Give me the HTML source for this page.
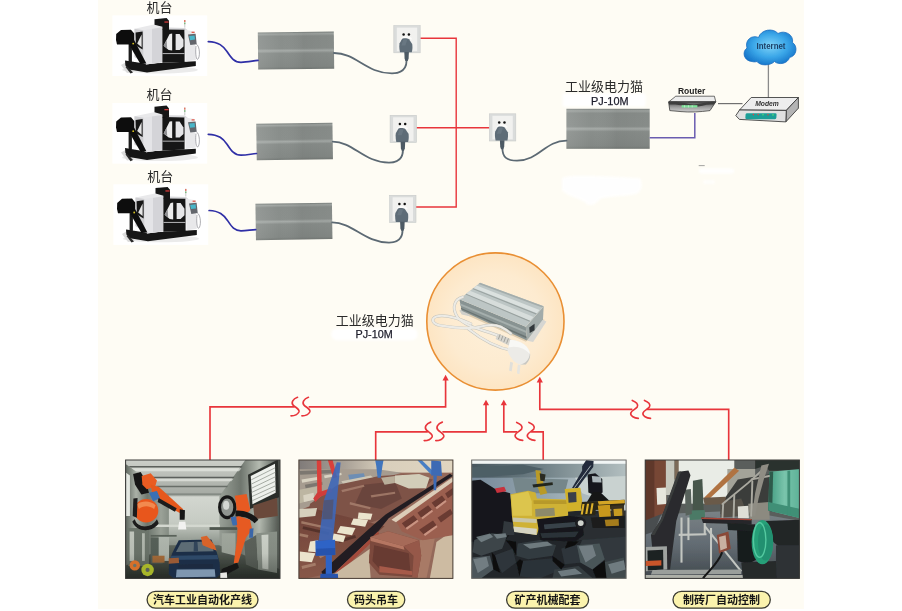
<!DOCTYPE html>
<html lang="zh"><head><meta charset="utf-8"><title>工业级电力猫 PJ-10M</title>
<style>
html,body{margin:0;padding:0;background:#fff;}
body{width:902px;height:611px;overflow:hidden;font-family:"Liberation Sans",sans-serif;}
svg{display:block}
text{font-family:"Liberation Sans","Noto Sans CJK SC",sans-serif;}
</style></head><body>
<svg width="902" height="611" viewBox="0 0 902 611">

<defs>
<filter id="b03" x="-5%" y="-5%" width="110%" height="110%"><feGaussianBlur stdDeviation="0.35"/></filter>
<filter id="b05" x="-5%" y="-5%" width="110%" height="110%"><feGaussianBlur stdDeviation="0.5"/></filter>
<filter id="b08" x="-5%" y="-5%" width="110%" height="110%"><feGaussianBlur stdDeviation="0.8"/></filter>
<filter id="b12" x="-10%" y="-10%" width="120%" height="120%"><feGaussianBlur stdDeviation="1.2"/></filter>
<filter id="b2" x="-10%" y="-10%" width="120%" height="120%"><feGaussianBlur stdDeviation="2"/></filter>
<filter id="b3" x="-20%" y="-20%" width="140%" height="140%"><feGaussianBlur stdDeviation="3"/></filter>
<linearGradient id="boxg" x1="0" y1="0" x2="0" y2="1">
<stop offset="0" stop-color="#7c827f"/><stop offset="0.05" stop-color="#a0a5a2"/><stop offset="0.11" stop-color="#898e8b"/>
<stop offset="0.44" stop-color="#8a8f8c"/><stop offset="0.5" stop-color="#a6aba8"/><stop offset="0.57" stop-color="#898e8b"/>
<stop offset="0.93" stop-color="#838885"/><stop offset="1" stop-color="#747976"/></linearGradient>
<linearGradient id="boxh" x1="0" y1="0" x2="1" y2="0">
<stop offset="0" stop-color="#fff" stop-opacity="0.10"/><stop offset="0.3" stop-color="#fff" stop-opacity="0"/><stop offset="0.6" stop-color="#000" stop-opacity="0.05"/><stop offset="1" stop-color="#000" stop-opacity="0.02"/></linearGradient>
<radialGradient id="cloudg" cx="0.5" cy="0.45" r="0.6">
<stop offset="0" stop-color="#7fd3f8"/><stop offset="0.55" stop-color="#3aa6e8"/><stop offset="1" stop-color="#1270c6"/></radialGradient>
<radialGradient id="circg" cx="0.5" cy="0.5" r="0.5">
<stop offset="0" stop-color="#fef0d9"/><stop offset="0.7" stop-color="#fdebd0"/><stop offset="1" stop-color="#fde5c3"/></radialGradient>
<linearGradient id="rtg" x1="0" y1="0" x2="0" y2="1"><stop offset="0" stop-color="#4a4a4a"/><stop offset="0.5" stop-color="#9a9a9a"/><stop offset="1" stop-color="#d0d0d0"/></linearGradient>

<!-- CNC machine, drawn at machine-1 coordinates -->
<g id="machine">
<rect x="112.4" y="15.4" width="94.8" height="60.6" fill="#fff" filter="url(#b05)"/>
<g filter="url(#b03)">
<!-- floor shadow -->
<ellipse cx="160" cy="69.8" rx="38" ry="3.6" fill="#ebebeb"/>
<path d="M121,65 L128,61 L130,66 L134,72 L127,73 Z" fill="#dcdcdc"/>
<!-- base -->
<path d="M125,60.5 L146,63.8 L195.8,61.2 L195.8,66 L147,72.4 L129,69.4 L125.4,65.5 Z" fill="#141414"/>
<path d="M127,66 L133,72.5 L130.5,73.6 L125.5,67 Z" fill="#2a2a2a"/>
<!-- conveyor vertical support -->
<rect x="128.6" y="43" width="3.3" height="19" fill="#1a1a1a"/>
<!-- main white body -->
<path d="M134.5,28.7 L153.9,24.6 L162.4,27 L162.4,62.3 L146.2,64.6 L134.5,57 Z" fill="#e9e9eb"/>
<path d="M134.5,28.7 L143.6,30.2 L143.6,62 L134.5,57 Z" fill="#cfcfd2"/>
<path d="M143.6,30.2 L162.4,27 L162.4,62.3 L146.2,64.6 L143.6,62 Z" fill="#e4e4e7"/>
<path d="M152,29 L162.4,27.3 L162.4,62 L152,63.6 Z" fill="#d4d4d8"/>
<!-- left window -->
<path d="M135.6,32.4 L142.6,31.4 L142.6,49.5 L135.9,45.6 Z" fill="#161616"/>
<path d="M137.2,43.5 L141.6,34.5 L141.6,47.2 Z" fill="#e6e6e6"/>
<!-- conveyor head + leg -->
<path d="M116.2,34 L121,29.9 L131,29.7 L134.2,33.5 L134.2,40 L146.4,63.6 L140.4,63.9 L129,44.4 L117,44.4 L116,40 Z" fill="#111"/>
<circle cx="133.2" cy="43.6" r="0.9" fill="#d8c020"/>
<!-- top black column -->
<path d="M154.5,19.2 L166.6,18 L169,20.8 L169,30 L162.4,30 L162.4,26.8 L154.5,24.7 Z" fill="#151515"/>
<rect x="164.4" y="21.4" width="4.2" height="1.3" fill="#d23a3a"/>
<!-- upper grey strip -->
<path d="M169,27.6 L185,28 L188,30.6 L169,30.6 Z" fill="#d9d9dc"/>
<!-- center dark door area -->
<path d="M162.4,29.5 L184.6,29.8 L184.6,62 L162.4,62.8 Z" fill="#121212"/>
<path d="M163.6,45.8 L169.6,34 L172.2,33.6 L172.2,50.6 L168.6,50 Z" fill="#ececec"/>
<path d="M163.6,45.8 L166.6,40 L167.2,48.5 Z" fill="#8f8f92"/>
<path d="M175.6,34 L179.6,34 L183.5,39.8 L183.5,46.4 L179.6,50 L175.6,50 Z" fill="#e6e6e8"/>
<rect x="162.4" y="53" width="22.2" height="1.1" fill="#a9a9ab"/>
<!-- right panel -->
<path d="M184.6,29.8 L194.6,31.4 L195.8,59.9 L185.6,61.4 Z" fill="#e8e8ea"/>
<!-- pendant -->
<path d="M188,34.6 L195.6,33.8 L196.7,44.2 L190.3,45 Z" fill="#63666c"/>
<path d="M189.2,36 L194.6,35.4 L195,39.6 L190,40.2 Z" fill="#49b6c9"/>
<rect x="191.6" y="31.7" width="3" height="1.2" fill="#e05040"/>
<path d="M196.2,44 C200.2,46 200.2,58 197.6,59.4 C195.6,59.4 195.4,50 196,46" fill="none" stroke="#8a8a90" stroke-width="0.7"/>
<!-- signal pole -->
<rect x="184.3" y="20" width="1" height="7.6" fill="#c9c9c9"/>
<rect x="184.2" y="20" width="1.2" height="2" fill="#e0604a"/>
<rect x="184.2" y="22.6" width="1.2" height="1.6" fill="#6ab06a"/>
</g>
</g>

<!-- socket with plug, origin top-left -->
<g id="socket">
<rect x="0" y="0" width="26.4" height="27.2" fill="#dadcdb"/>
<rect x="0" y="0" width="26.4" height="27.2" fill="none" stroke="#c9cbca" stroke-width="0.6"/>
<rect x="3" y="2" width="20.4" height="23.6" fill="#f1f1ef"/>
<path d="M7.4,12.6 C9.6,9.6 15.6,9.6 17.8,12.6 L17.8,14 L7.4,14 Z" fill="#fbfbfa"/>
<circle cx="9.8" cy="8.8" r="1.25" fill="#111"/>
<circle cx="15.1" cy="8.8" r="1.25" fill="#111"/>
<path d="M8.4,13.2 C10.5,12.4 13.6,12.6 15.2,13.6 L18.4,18.4 C18.9,21 18.6,24.4 18,26.6 L6.2,26.6 C5.4,23 5.3,20 5.8,17.6 Z" fill="#5e6c77"/>
<path d="M9.4,14.4 C10.6,13.8 12.4,13.9 13.4,14.4 L11.6,20 L7.6,20 Z" fill="#6c7a85" opacity="0.8"/>
<path d="M10.5,26.4 L15.1,26.4 L14.8,33 L13.9,35.4 L11.6,35.4 L10.8,33 Z" fill="#4d5a64"/>
</g>
</defs>

<rect x="0" y="0" width="902" height="611" fill="#fff"/>
<rect x="98" y="0" width="705.9" height="609" fill="#fefcf4"/>
<g filter="url(#b08)" fill="#fff">
<rect x="562.6" y="93.6" width="83" height="13.2" rx="2"/>
<rect x="331.3" y="328.2" width="86.2" height="12" rx="5.5"/>
</g>
<g filter="url(#b12)" fill="#fff" opacity="0.95">
<path d="M562,178 C570,174 600,176 640,178 C643,184 642,192 636,194 C620,197 606,196 600,199 C596,205 588,207 586,203 C580,198 566,196 562,190 Z"/>
<rect x="699" y="168.4" width="35" height="5" rx="2"/>
<rect x="703" y="180" width="12" height="4" rx="2" opacity="0.7"/>
</g>
<rect x="698.7" y="165.2" width="6" height="0.9" fill="#9a9a98"/>

<g transform="translate(0,0)">
<use href="#machine"/>
</g>
<g transform="translate(0,87.6)">
<use href="#machine"/>
</g>
<g transform="translate(1.0,168.9)">
<use href="#machine"/>
</g>
<!-- grey boxes -->
<g filter="url(#b03)">
<g transform="rotate(-0.6 296 50.6)"><rect x="258" y="32" width="76" height="37.2" fill="url(#boxg)"/><rect x="258" y="32" width="76" height="37.2" fill="url(#boxh)"/></g>
<g transform="rotate(-0.85 294.6 141.5)"><rect x="256.5" y="123.3" width="76.2" height="36.4" fill="url(#boxg)"/><rect x="256.5" y="123.3" width="76.2" height="36.4" fill="url(#boxh)"/></g>
<g transform="rotate(-0.85 294 221.4)"><rect x="255.7" y="203.3" width="76.5" height="36.3" fill="url(#boxg)"/><rect x="255.7" y="203.3" width="76.5" height="36.3" fill="url(#boxh)"/></g>
<rect x="566.4" y="108.8" width="83.3" height="40" fill="url(#boxg)"/><rect x="566.4" y="108.8" width="83.3" height="40" fill="url(#boxh)"/>
</g>
<!-- blue cables -->
<g fill="none" stroke="#2f2fa6" stroke-width="1.7" stroke-linecap="round">
<path d="M208.3,41.6 C219,42 223,46 227,51.5 C231,57.5 234,62.3 241,62.3 C247,62.3 252,61 258,60.3"/>
<path d="M208.3,134.3 C219,134.7 223,138.7 227,144.2 C231,150.2 234,155.2 241,155.2 C247,155.2 251,154 256.5,153.5"/>
<path d="M209.1,210.5 C219.5,210.9 223.5,214.9 227.5,220.4 C231.5,226.4 234,230.8 241,230.8 C246,230.8 250,230 255.7,229.6"/>
</g>
<!-- grey power cables -->
<g fill="none" stroke="#5c6973" stroke-width="1.8" stroke-linecap="round">
<path d="M334,53 C356,53 366,73.4 392,73.4 C402,73.4 406.6,68.5 406.6,60"/>
<path d="M332.7,141.6 C353,141.6 364,162.6 389,162.6 C399,162.6 403,157.5 403,149.5"/>
<path d="M332.2,222.4 C353,222.4 364,242.6 389,242.6 C399,242.6 402.6,237.5 402.6,229.5"/>
<path d="M502.4,148 C502.4,157.5 507,160.6 517,160.6 C539,160.6 545,140.6 566.5,140.6"/>
</g>
<!-- red power lines -->
<g fill="none" stroke="#e8353b" stroke-width="1.4">
<path d="M420.2,38.3 H456.2 V207 H416"/>
<path d="M416.5,127.7 H489.5"/>
</g>
<use href="#socket" x="393.8" y="25.6"/>
<use href="#socket" x="390.1" y="115.3"/>
<use href="#socket" x="389.6" y="195.3"/>
<use href="#socket" x="489.4" y="113.8"/>

<text x="146.6" y="12.4" font-size="13" fill="#2a2a2a">机台</text>
<text x="146.6" y="99.1" font-size="13" fill="#2a2a2a">机台</text>
<text x="147.3" y="180.7" font-size="13" fill="#2a2a2a">机台</text>
<text x="603.9" y="91.3" font-size="13" text-anchor="middle" fill="#2a2a2a">工业级电力猫</text>
<text x="609.8" y="104.9" font-size="10.9" text-anchor="middle" fill="#1d1d2b" stroke="#1d1d2b" stroke-width="0.25">PJ-10M</text>
<text x="374.8" y="325.2" font-size="13" text-anchor="middle" fill="#2a2a2a">工业级电力猫</text>
<text x="374.1" y="338.2" font-size="10.8" text-anchor="middle" fill="#1d1d2b" stroke="#1d1d2b" stroke-width="0.25">PJ-10M</text>
<!-- white patch behind PJ-10M is drawn in smudges -->
<!-- purple ethernet line -->
<path d="M649.7,137.7 H694.8 V113" fill="none" stroke="#6a5cb0" stroke-width="1.5"/>
<!-- router-modem, cloud-modem lines -->
<path d="M718,103.6 H742.5" stroke="#707070" stroke-width="1.2" fill="none"/>
<path d="M768.4,62 V98" stroke="#8a8a8a" stroke-width="1.3" fill="none"/>
<!-- cloud -->
<g filter="url(#b03)">
<path d="M752,61.5 C744,61 741.5,52 747,48 C744.5,40 752,34.5 758.5,37.5 C761,29.5 773,27.5 778,33.5 C785,29.5 794,35 792.5,42.5 C798,46 797,56 789.5,57.5 C788,63.5 779,65.5 774.5,61.5 C770,66 760,66 757,61.5 C755.5,62 753.5,62 752,61.5 Z" fill="url(#cloudg)" stroke="#1d6fc0" stroke-width="0.8"/>
</g>
<text x="771" y="48.7" font-size="8.6" font-weight="bold" text-anchor="middle" fill="#1c3f66" textLength="29" lengthAdjust="spacingAndGlyphs">Internet</text>
<!-- router -->
<g filter="url(#b03)">
<path d="M668.8,101.8 L675.8,96.2 L714.4,96.2 L715.8,101.8 Z" fill="#ececec" stroke="#333" stroke-width="0.7"/>
<path d="M668.6,101.8 L715.8,101.8 L710,110.6 C700,112 690,112.4 681,111.6 L669.8,110.6 Z" fill="url(#rtg)" stroke="#2a2a2a" stroke-width="0.7"/>
<path d="M668.8,102 C680,100.8 688,104.6 694,104.4 C702,104.2 708,101 715.6,102 L714,104.6 C706,103.8 701,106.8 694,107 C687,107.2 680,103.8 669,104.6 Z" fill="#3c3c3c"/>
<rect x="681.6" y="105.2" width="15.8" height="2.3" fill="#7fe39a"/>
<path d="M684.6,105.2 v2.3 M688.4,105.2 v2.3 M692.2,105.2 v2.3" stroke="#cfeedd" stroke-width="0.7"/>
</g>
<text x="691.6" y="94.2" font-size="9.3" font-weight="bold" text-anchor="middle" fill="#222" textLength="27.4" lengthAdjust="spacingAndGlyphs">Router</text>
<!-- modem -->
<g filter="url(#b03)">
<path d="M751.2,97.5 L798.4,97.5 L786.3,110.4 L739.5,110 Z" fill="#ededed" stroke="#2c2c2c" stroke-width="0.8"/>
<path d="M786.3,110.4 L798.4,97.5 L798.4,108.2 L785.8,121.9 Z" fill="#b4b4b4" stroke="#2c2c2c" stroke-width="0.8"/>
<path d="M739.5,110 L786.3,110.4 L785.8,121.9 L739.4,119.4 L735.8,115.6 Z" fill="#e0e0e0" stroke="#2c2c2c" stroke-width="0.8"/>
<rect x="745.6" y="113.2" width="31" height="6" rx="1.4" fill="#1b9e97" transform="skewX(-4) translate(8,0)"/>
<g fill="#e84040"><circle cx="753.4" cy="114.6" r="0.8"/><circle cx="758.2" cy="114.6" r="0.8"/><circle cx="768" cy="114.8" r="0.8"/></g>
<g fill="#50e070"><circle cx="763" cy="114.7" r="0.8"/><circle cx="773" cy="114.9" r="0.8"/></g>
</g>
<text x="767" y="106.2" font-size="7.8" font-style="italic" font-weight="bold" text-anchor="middle" fill="#333" textLength="23.6" lengthAdjust="spacingAndGlyphs">Modem</text>

<circle cx="495.4" cy="321.5" r="68.6" fill="url(#circg)" stroke="#e98f33" stroke-width="1.6"/>
<g transform="translate(425,250) scale(0.22915)" filter="url(#b12)">
<!-- drop shadow -->
<path d="M150,270 L440,400 L520,320 L520,300 L440,390 L160,262 Z" fill="#d9c7a8" opacity="0.8"/>
<!-- mounting flanges -->
<path d="M505,300 L530,312 L472,402 L446,396 Z" fill="#d6d6d2"/>
<path d="M150,262 L168,258 L200,290 L160,282 Z" fill="#cfcfca"/>
<!-- left long side -->
<path d="M150,215 L440,335 L445,395 L160,265 Z" fill="#889392"/>
<path d="M152,232 L441,352 L442,362 L154,242 Z" fill="#a5afad"/>
<path d="M156,252 L443,378 L444,386 L158,259 Z" fill="#6a7473"/>
<!-- end face -->
<path d="M440,335 L518,245 L515,302 L445,395 Z" fill="#a2aba9"/>
<path d="M455,338 L478,322 L478,350 L457,362 Z" fill="#33383a"/>
<!-- top face -->
<path d="M240,143 L518,245 L440,335 L150,215 Z" fill="#bdc6c5"/>
<path d="M225,155 L500,262 L488,276 L212,166 Z" fill="#dbe1df"/>
<path d="M196,178 L474,292 L458,310 L178,192 Z" fill="#d7dddb"/>
<path d="M210,167 L487,277 L484,281 L207,170 Z" fill="#99a2a0"/>
<path d="M180,191 L459,309 L456,313 L177,194 Z" fill="#99a2a0"/>
<path d="M240,143 L518,245 L512,251 L234,148 Z" fill="#a4adab"/>
<!-- cable -->
<g fill="none" stroke-linecap="round" stroke-linejoin="round">
<g stroke="#c3c2ba" stroke-width="13">
<path d="M165,205 C125,215 118,255 140,290 C158,318 200,335 250,350 C300,365 340,380 370,395"/>
<path d="M200,322 C150,300 90,280 50,290 C20,300 35,325 70,330 C130,340 200,345 240,335 C270,326 300,322 330,335 C350,345 365,355 375,365"/>
<path d="M190,345 C240,385 300,425 385,440"/>
</g>
<g stroke="#ecebe6" stroke-width="9">
<path d="M165,205 C125,215 118,255 140,290 C158,318 200,335 250,350 C300,365 340,380 370,395"/>
<path d="M200,322 C150,300 90,280 50,290 C20,300 35,325 70,330 C130,340 200,345 240,335 C270,326 300,322 330,335 C350,345 365,355 375,365"/>
<path d="M190,345 C240,385 300,425 385,440"/>
</g>
</g>
<!-- strain relief -->
<path d="M318,365 L378,392 L368,418 L308,388 Z" fill="#d6d5cf"/>
<path d="M328,368 l-8,22 M340,374 l-8,22 M352,380 l-8,22 M364,386 l-8,22" stroke="#9d9c96" stroke-width="4"/>
<!-- plug body -->
<path d="M372,392 C420,395 455,420 458,455 C460,485 440,505 415,500 C390,495 372,470 360,440 Z" fill="#ecebe7"/>
<path d="M372,392 C420,395 455,420 458,455 C440,430 400,415 364,425 Z" fill="#f8f8f5"/>
<path d="M440,500 C455,485 462,465 458,450 C455,480 440,495 415,500 Z" fill="#c8c7c1"/>
<!-- prongs -->
<path d="M372,488 L384,492 L378,530 L367,526 Z" fill="#e0dfda"/>
<path d="M405,500 L417,503 L412,542 L401,538 Z" fill="#e6e5e0"/>
</g>

<g fill="none" stroke="#e8353b" stroke-width="1.65" stroke-linecap="round" stroke-linejoin="miter">
<path d="M445.6,379 V406.8 H309.3 M294.2,406.8 H210 V459.8"/>
<path d="M297.5,397.3 C293.0,398.8 290.7,402.8 293.3,405.3 C296.0,407.8 300.1,409.3 298.9,412.0 C297.5,414.8 294.0,415.8 291.0,415.8"/><path d="M308.4,397.3 C303.9,398.8 301.6,402.8 304.2,405.3 C306.9,407.8 311.0,409.3 309.8,412.0 C308.4,414.8 304.9,415.8 301.9,415.8"/>
<path d="M486,404 V431.8 H443 M427.4,431.8 H375.7 V459.8"/>
<path d="M430.7,422.1 C426.2,423.6 423.9,427.6 426.5,430.1 C429.2,432.6 433.3,434.1 432.1,436.8 C430.7,439.6 427.2,440.6 424.2,440.6"/><path d="M442.3,422.1 C437.8,423.6 435.5,427.6 438.1,430.1 C440.8,432.6 444.9,434.1 443.7,436.8 C442.3,439.6 438.8,440.6 435.8,440.6"/>
<path d="M503.8,404 V431.8 H516.6 M531.4,431.8 H543.2 V459.8"/>
<path d="M516.7,422.4 C520.5,423.9 523.2,426.4 521.6,429.0 C520.0,431.4 516.0,432.4 515.2,435.0 C514.4,438.0 519.0,440.0 522.7,440.4"/><path d="M528.9,422.4 C532.7,423.9 535.4,426.4 533.8,429.0 C532.2,431.4 528.2,432.4 527.4,435.0 C526.6,438.0 531.2,440.0 534.9,440.4"/>
<path d="M539.8,381 V409.3 H631.8 M647.2,409.3 H728.7 V459.8"/>
<path d="M632.3,400.4 C636.1,401.9 638.8,404.4 637.2,407.0 C635.6,409.4 631.6,410.4 630.8,413.0 C630.0,416.0 634.6,418.0 638.3,418.4"/><path d="M644.5,400.4 C648.3,401.9 651.0,404.4 649.4,407.0 C647.8,409.4 643.8,410.4 643.0,413.0 C642.2,416.0 646.8,418.0 650.5,418.4"/>
<path d="M445.6,374.8 L448.70000000000005,380.40000000000003 L442.5,380.40000000000003 Z" fill="#e8353b" stroke="none"/>
<path d="M486,399.7 L489.1,405.3 L482.9,405.3 Z" fill="#e8353b" stroke="none"/>
<path d="M503.8,399.7 L506.90000000000003,405.3 L500.7,405.3 Z" fill="#e8353b" stroke="none"/>
<path d="M539.8,376.8 L542.9,382.40000000000003 L536.6999999999999,382.40000000000003 Z" fill="#e8353b" stroke="none"/>
</g>
<svg x="125.6" y="460" width="154.4" height="118.4" viewBox="5 7 892 684" preserveAspectRatio="none" overflow="hidden">
<defs>
<linearGradient id="p1ceil" x1="0" y1="0" x2="0" y2="1"><stop offset="0" stop-color="#cdd0ca"/><stop offset="1" stop-color="#a3a8a1"/></linearGradient>
<linearGradient id="p1lw" x1="0" y1="0" x2="1" y2="0"><stop offset="0" stop-color="#5a625a"/><stop offset="0.25" stop-color="#aab1a7"/><stop offset="0.5" stop-color="#6e776e"/><stop offset="0.8" stop-color="#9ba298"/><stop offset="1" stop-color="#848c83"/></linearGradient>
<linearGradient id="p1rw" x1="0" y1="0" x2="1" y2="0"><stop offset="0" stop-color="#9aa198"/><stop offset="0.35" stop-color="#6f766e"/><stop offset="0.65" stop-color="#b4bab0"/><stop offset="0.85" stop-color="#757c74"/><stop offset="1" stop-color="#4a4f49"/></linearGradient>
<linearGradient id="p1back" x1="0" y1="0" x2="0" y2="1"><stop offset="0" stop-color="#d3d7d0"/><stop offset="0.55" stop-color="#c6cbc3"/><stop offset="1" stop-color="#8f978e"/></linearGradient>
<linearGradient id="p1floor" x1="0" y1="0" x2="0" y2="1"><stop offset="0" stop-color="#626a61"/><stop offset="1" stop-color="#2a2f2a"/></linearGradient>
<linearGradient id="p1dk" x1="0" y1="0" x2="0" y2="1"><stop offset="0" stop-color="#1c211c" stop-opacity="0"/><stop offset="0.55" stop-color="#1c211c" stop-opacity="0.08"/><stop offset="1" stop-color="#1c211c" stop-opacity="0.42"/></linearGradient>
</defs>
<rect x="0" y="0" width="902" height="700" fill="#90978e"/>
<g filter="url(#b3)">
<!-- walls -->
<path d="M0,0 L0,26 L261,216 L258,500 L0,700 Z" fill="url(#p1lw)"/>
<path d="M700,0 L902,0 L902,700 L545,500 L545,215 Z" fill="url(#p1rw)"/>
<path d="M8,80 L30,96 L30,330 L8,330 Z" fill="#e3e7e1"/>
<!-- back wall -->
<rect x="255" y="212" width="292" height="290" fill="url(#p1back)"/>
<!-- ceiling -->
<path d="M-36,0 L702,0 L547,216 L261,216 Z" fill="url(#p1ceil)"/>
<g fill="#5b615b">
<path d="M22,42 L680,42 L675,51 L34,51 Z"/>
<path d="M108,104 L634,104 L629,113 L120,113 Z"/>
<path d="M180,156 L596,156 L592,164 L190,164 Z" fill="#686e68"/>
<path d="M238,200 L560,200 L556,208 L244,208 Z" fill="#7a807a"/>
</g>
<g fill="#e6e9e3" opacity="0.7">
<path d="M40,54 L674,54 L660,72 L64,72 Z"/>
<path d="M126,116 L628,116 L616,130 L144,130 Z"/>
</g>
<!-- floor -->
<path d="M0,700 L0,620 L258,500 L545,500 L902,640 L902,700 Z" fill="url(#p1floor)"/>
<!-- left machinery -->
<rect x="20" y="400" width="120" height="220" fill="#6e776d"/>
<rect x="150" y="455" width="70" height="150" fill="#59625a"/><rect x="196" y="450" width="60" height="140" fill="#b4bbb2"/>
<rect x="28" y="420" width="26" height="170" fill="#c3c9bf"/>
<rect x="100" y="430" width="16" height="160" fill="#b7bdb3"/>
<rect x="160" y="560" width="70" height="40" fill="#b0703a"/>
<!-- mid shelf lines -->
<rect x="150" y="380" width="400" height="14" fill="#d6dad2"/>
<rect x="150" y="440" width="150" height="10" fill="#5d655d"/>
<rect x="490" y="395" width="160" height="16" fill="#50574f"/>
<!-- right cabinets -->
<path d="M760,430 L880,420 L880,660 L770,640 Z" fill="#8c938a"/>
<path d="M790,440 L830,437 L830,640 L795,634 Z" fill="#d0d5cc"/>
<path d="M690,480 L760,440 L770,640 L700,610 Z" fill="#5d645c"/>
<path d="M560,430 L640,430 L640,560 L560,540 Z" fill="#a3aaa0"/>
<!-- window blind -->
<path d="M712,92 L886,4 L892,222 L724,290 Z" fill="#2b2e2b"/>
<path d="M728,100 L868,28 L872,196 L738,262 Z" fill="#eef1ec"/>
<g stroke="#9aa098" stroke-width="5"><path d="M730,122 L869,52"/><path d="M732,146 L870,78"/><path d="M733,170 L870,104"/><path d="M734,194 L871,130"/><path d="M735,218 L871,156"/><path d="M737,242 L872,180"/></g>
<path d="M742,270 L880,225 L884,330 L750,350 Z" fill="#6a4a3a"/>
</g>
<rect x="0" y="360" width="902" height="340" fill="url(#p1dk)"/>
<g filter="url(#b2)">
<!-- car -->
<path d="M312,470 L500,466 L532,542 L548,600 L552,668 L528,688 L280,688 L254,668 L256,600 L274,545 Z" fill="#1d2f47"/>
<path d="M326,482 L490,478 L514,534 L296,538 Z" fill="#5d6c74"/>
<path d="M400,480 L420,480 L424,536 L398,536 Z" fill="#31455a"/>
<path d="M300,640 L520,638 L524,682 L296,684 Z" fill="#7f97b0"/>
<path d="M268,560 L536,556 L540,580 L264,584 Z" fill="#2d4868"/>
<path d="M254,574 L312,572 L314,602 L254,606 Z" fill="#9a5a34"/>
<path d="M310,610 L510,608 L512,630 L308,632 Z" fill="#1c2c40"/>
<!-- background robot behind car -->
<path d="M440,452 L474,444 L520,500 L530,530 L500,520 L450,500 Z" fill="#d8642c"/>
<!-- left robot -->
<path d="M48,88 L92,76 L118,120 L140,196 L96,206 L60,150 Z" fill="#161616"/>
<path d="M98,100 L150,84 L186,126 L176,160 L128,176 L102,150 Z" fill="#e95c20"/>
<path d="M150,150 L196,162 L338,292 L326,318 L236,268 L160,214 Z" fill="#e6591e"/>
<path d="M140,196 L186,186 L204,228 L164,246 Z" fill="#3a6fb4"/>
<path d="M196,226 L300,286 L290,306 L190,250 Z" fill="#1b1b1b"/>
<path d="M318,292 L348,298 L346,352 L318,352 Z" fill="#151515"/>
<path d="M314,364 L350,364 L356,408 L308,408 Z" fill="#f2f2f0"/>
<ellipse cx="124" cy="300" rx="70" ry="68" fill="#e8571c"/>
<path d="M70,262 C100,240 150,240 178,268 L170,290 C140,268 104,270 82,290 Z" fill="#f28a50"/>
<path d="M58,350 C70,400 150,410 186,350 L196,372 C160,430 64,424 44,362 Z" fill="#1a1a1a"/>
<path d="M50,230 L74,226 L70,340 L46,330 Z" fill="#1c1c1c"/>
<!-- right robot -->
<ellipse cx="592" cy="280" rx="44" ry="60" fill="#8f948f" stroke="#171717" stroke-width="18"/><ellipse cx="586" cy="268" rx="18" ry="26" fill="#d4d7d3"/>
<path d="M636,214 L704,204 L726,296 L700,320 L650,310 Z" fill="#e85a20"/>
<path d="M640,300 C680,296 740,310 772,352 L750,372 C720,340 680,330 640,334 Z" fill="#161616"/>
<path d="M606,342 L660,332 L724,352 L736,408 L700,456 L656,600 L630,604 L648,470 L652,400 Z" fill="#e65a22"/>
<path d="M610,336 L644,334 L650,384 L624,386 Z" fill="#3d6cae"/>
<path d="M722,404 L744,402 L740,456 L718,456 Z" fill="#3a66a8"/>
<path d="M560,636 L650,600 L660,630 L585,672 L556,668 Z" fill="#161616"/>
<path d="M552,660 L590,655 L592,690 L552,690 Z" fill="#e8e8e4"/>
<!-- gears -->
<circle cx="58" cy="616" r="30" fill="#d6702a"/>
<circle cx="58" cy="616" r="10" fill="#6b736a"/>
<circle cx="132" cy="642" r="36" fill="#a7b62a"/>
<circle cx="132" cy="642" r="12" fill="#5a6258"/>
</g>
</svg>
<rect x="125.6" y="460" width="154.4" height="118.4" fill="none" stroke="#3a3a38" stroke-width="1"/>

<svg x="298.9" y="460" width="154" height="118.4" viewBox="5 7 890 684" preserveAspectRatio="none" overflow="hidden">
<defs>
<linearGradient id="p2sky" x1="0" y1="0" x2="1" y2="0"><stop offset="0" stop-color="#7f7a78"/><stop offset="0.3" stop-color="#a9a197"/><stop offset="0.55" stop-color="#d9cfbc"/><stop offset="1" stop-color="#e0d5c0"/></linearGradient>
<linearGradient id="p2deck" x1="0" y1="0" x2="0" y2="1"><stop offset="0" stop-color="#6f4238"/><stop offset="1" stop-color="#885848"/></linearGradient>
</defs>
<rect x="0" y="0" width="902" height="700" fill="#94695a"/>
<g filter="url(#b3)">
<!-- sky / haze -->
<rect x="0" y="0" width="902" height="80" fill="url(#p2sky)"/>
<!-- far yard -->
<path d="M0,60 L460,60 L600,80 L420,130 L250,200 L0,300 Z" fill="#a69c90"/>
<path d="M0,180 L110,160 L110,230 L0,260 Z" fill="#bdb6a2"/>
<path d="M290,92 L380,84 L392,120 L300,134 Z" fill="#6e8eb4"/>
<path d="M250,130 L420,96 L440,112 L270,160 Z" fill="#cdc6b4"/>
<g fill="#d9d3c2"><path d="M20,120 L120,104 L124,120 L24,138 Z"/><path d="M150,96 L250,80 L252,94 L154,112 Z"/><path d="M300,150 L420,118 L424,130 L306,164 Z"/><path d="M30,210 L90,196 L94,236 L34,250 Z"/></g>
<g fill="#7c776f"><path d="M10,70 L200,64 L204,84 L12,92 Z"/><path d="M40,150 L140,132 L142,150 L44,170 Z"/></g>
<!-- main ship deck -->
<path d="M230,150 L470,100 L640,90 L780,120 L620,290 L420,370 L60,300 L70,260 Z" fill="#7e5247"/>
<path d="M380,150 L560,130 L600,230 L480,290 L330,260 Z" fill="#6b453d"/>
<g fill="#a9826f" opacity="0.8"><path d="M250,180 L380,150 L384,162 L256,194 Z"/><path d="M420,210 L560,190 L562,202 L424,224 Z"/><path d="M300,250 L420,280 L416,292 L298,264 Z"/></g>
<!-- far hatch covers -->
<path d="M560,96 L700,88 L760,110 L740,170 L640,172 L560,140 Z" fill="#d2cdb9"/>
<path d="M480,110 L560,100 L560,140 L500,150 Z" fill="#b9ae9a"/>
<!-- left lower deck -->
<path d="M0,300 L60,280 L420,370 L500,390 L200,660 L0,700 Z" fill="url(#p2deck)"/>
<path d="M0,290 L110,285 L100,330 L0,340 Z" fill="#d6cfbc"/>
<g fill="#b08a74" opacity="0.75"><path d="M20,360 L200,400 L196,412 L18,374 Z"/><path d="M10,430 L60,440 L56,456 L8,446 Z"/><path d="M120,560 L200,520 L206,534 L128,574 Z"/><path d="M20,620 L100,600 L104,616 L24,636 Z"/></g>
<g fill="#4e2e28" opacity="0.8"><path d="M30,390 L180,424 L176,440 L26,406 Z"/><path d="M230,470 L330,440 L336,456 L238,486 Z"/></g>
<!-- dark hull band -->
<path d="M878,86 L896,98 L524,344 L462,420 L215,655 L150,684 L135,652 L440,378 L506,322 Z" fill="#231f22"/>
<path d="M462,420 L472,438 L228,672 L215,655 Z" fill="#a2493a"/>
<!-- cream hatch covers along left deck -->
<g fill="#ebe4cd">
<path d="M350,310 L430,318 L420,352 L345,346 Z"/>
<path d="M320,345 L405,352 L388,392 L305,380 Z"/>
<path d="M245,388 L332,400 L312,442 L225,428 Z"/>
<path d="M205,432 L275,444 L262,482 L196,470 Z"/>
<path d="M70,478 L116,470 L112,540 L58,535 Z"/>
<path d="M10,535 L100,545 L80,598 L10,590 Z"/>
</g>
<!-- ground -->
<path d="M430,510 L410,560 L420,690 L230,690 L210,665 Z" fill="#c9b9a1"/>
<path d="M800,480 L902,410 L902,700 L760,700 Z" fill="#cdbba2"/><path d="M700,470 L790,460 L740,700 L690,700 Z" fill="#a87a66"/>
<!-- right hull blocks -->
<path d="M560,350 L900,112 L902,440 L720,470 L600,420 Z" fill="#9b5f50"/>
<path d="M540,352 L892,108 L900,128 L566,366 Z" fill="#dccdb8"/>
<g fill="#6b3a32">
<path d="M600,372 L668,326 L690,352 L622,400 Z"/>
<path d="M690,312 L752,268 L774,294 L712,340 Z"/>
<path d="M772,254 L832,212 L852,238 L794,282 Z"/>
<path d="M850,200 L896,168 L900,204 L866,228 Z"/>
<path d="M700,410 L780,356 L800,384 L726,436 Z"/>
<path d="M806,340 L880,290 L896,316 L826,368 Z"/>
</g>
<g fill="#c99482">
<path d="M622,400 L690,352 L696,362 L630,410 Z"/>
<path d="M712,340 L774,294 L780,304 L720,350 Z"/>
<path d="M794,282 L852,238 L858,248 L802,292 Z"/>
<path d="M726,436 L800,384 L806,394 L734,446 Z"/>
</g>
<!-- big hull box -->
<path d="M418,452 L520,418 L700,470 L712,560 L690,686 L470,670 L410,600 Z" fill="#7c4a3c"/>
<path d="M418,452 L520,418 L700,470 L610,505 Z" fill="#a66a58"/>
<path d="M610,505 L700,470 L712,560 L690,686 L660,684 L668,560 Z" fill="#96594a"/>
<path d="M418,452 L610,505 L615,525 L420,475 Z" fill="#b57662"/>
<path d="M440,500 L640,545 L650,660 L480,645 L430,590 Z" fill="#683a33"/>
<path d="M470,620 L660,650 L660,672 L470,656 Z" fill="#a65a4a"/>
</g>
<g filter="url(#b2)">
<!-- red crane -->
<path d="M108,0 L134,0 L138,212 L112,214 Z" fill="#d9413a"/>
<path d="M170,0 L198,0 L226,106 L204,112 Z" fill="#d9413a"/>
<path d="M88,230 L110,196 L190,170 L200,190 L130,220 L100,250 Z" fill="#cf3e3a"/>
<!-- blue crane left -->
<path d="M224,20 L246,22 L214,350 L200,470 L120,470 L150,240 Z" fill="#3d67b8" opacity="0.9"/>
<path d="M150,240 L205,235 L198,350 L140,350 Z" fill="#5a4a50" opacity="0.55"/>
<path d="M100,472 L214,468 L216,556 L102,560 Z" fill="#2f63c6"/>
<path d="M104,520 L214,516 L214,556 L104,560 Z" fill="#2753ad"/>
<path d="M160,556 L196,556 L196,672 L160,672 Z" fill="#2f63c6"/>
<path d="M130,664 L230,664 L232,690 L128,690 Z" fill="#2753ad"/>
<!-- blue crane top center -->
<path d="M446,8 L494,8 L488,40 L478,110 L460,110 L452,40 Z" fill="#3f74bd"/>
<!-- blue crane top right -->
<path d="M690,8 L716,8 L790,80 L770,92 Z" fill="#4a7fc4"/>
<path d="M770,10 L826,14 L832,100 L770,96 Z" fill="#3c6ab4"/>
<path d="M782,96 L802,96 L798,182 L784,182 Z" fill="#3c6ab4"/>
</g>
</svg>
<rect x="298.9" y="460" width="154" height="118.4" fill="none" stroke="#4a4038" stroke-width="1"/>

<svg x="471.7" y="460" width="154.4" height="118.4" viewBox="5 8 888 683" preserveAspectRatio="none" overflow="hidden">
<defs>
<linearGradient id="p3hill" x1="0" y1="0" x2="1" y2="0"><stop offset="0" stop-color="#46565e"/><stop offset="0.45" stop-color="#6f8086"/><stop offset="1" stop-color="#b4c0c1"/></linearGradient>
<linearGradient id="p3mid" x1="0" y1="0" x2="1" y2="0"><stop offset="0" stop-color="#77899a"/><stop offset="0.5" stop-color="#97a8b0"/><stop offset="1" stop-color="#c6d0d2"/></linearGradient>
</defs>
<rect x="0" y="0" width="902" height="700" fill="#22262a"/>
<g filter="url(#b3)">
<rect x="0" y="0" width="902" height="36" fill="#f1f5f4"/><path d="M330,30 L902,30 L902,62 L560,52 Z" fill="#e9efee"/>
<rect x="0" y="30" width="902" height="88" fill="url(#p3hill)"/>
<path d="M0,50 L300,36 L420,60 L300,90 L0,110 Z" fill="#4d5e66"/>
<rect x="0" y="110" width="902" height="190" fill="url(#p3mid)"/>
<path d="M600,110 L902,100 L902,250 L760,240 L640,200 Z" fill="#c9d2d0"/>
<path d="M240,110 L560,120 L540,200 L260,200 Z" fill="#75868a"/>
<!-- lower ground right -->
<path d="M600,330 L902,300 L902,480 L620,470 Z" fill="#2a2f33"/>
<path d="M640,470 L902,450 L902,620 L700,640 L600,560 Z" fill="#30383c"/>
<!-- coal pile left -->
<path d="M0,128 L56,122 L140,176 L226,200 L250,400 L200,470 L0,480 Z" fill="#15181b"/>
<!-- rocks highlights -->
<path d="M20,470 L120,430 L210,440 L180,520 L60,560 L10,540 Z" fill="#3c4549"/>
<path d="M10,570 L110,560 L130,640 L60,690 L0,690 Z" fill="#4b555a"/>
<path d="M130,560 L240,520 L260,600 L180,660 Z" fill="#2f363b"/>
<path d="M270,490 L400,470 L490,500 L470,560 L330,580 L260,560 Z" fill="#333b3f"/>
<path d="M300,590 L470,575 L520,640 L400,690 L280,680 Z" fill="#2c3237"/>
<path d="M520,520 L600,490 L660,530 L640,600 L540,610 Z" fill="#2d353a"/>
<path d="M610,500 L740,490 L770,580 L700,640 L630,600 Z" fill="#4a5458"/>
<path d="M760,600 L880,570 L895,690 L780,690 Z" fill="#3f484c"/>
<path d="M480,640 L620,620 L700,690 L470,690 Z" fill="#343c40"/>
<path d="M190,360 L250,370 L250,440 L180,440 Z" fill="#30373c"/>
<g fill="#79858a" opacity="0.85">
<path d="M30,452 L110,432 L128,452 L60,482 Z"/>
<path d="M130,436 L200,430 L206,452 L150,462 Z"/>
<path d="M300,494 L440,478 L470,500 L340,520 Z"/>
<path d="M620,506 L700,498 L720,560 L660,600 Z"/>
<path d="M14,580 L90,566 L104,620 L40,660 Z"/>
<path d="M790,610 L880,586 L890,640 L810,664 Z"/>
<path d="M500,650 L600,634 L640,664 L520,680 Z"/>
</g>
<g fill="#0d0f11">
<path d="M200,470 L260,480 L262,560 L240,520 Z"/>
<path d="M120,540 L140,560 L170,660 L130,640 Z"/>
<path d="M470,560 L540,612 L520,640 L470,590 Z"/>
<path d="M280,580 L300,590 L280,680 L262,600 Z"/>
<path d="M700,640 L770,586 L780,690 L720,690 Z"/>
<path d="M560,470 L620,478 L600,500 L540,520 Z"/>
</g>
</g>
<g filter="url(#b2)">
<!-- red vehicle -->
<path d="M138,172 L192,162 L204,188 L150,198 Z" fill="#c8303c"/>
<!-- boom + bucket -->
<path d="M582,170 L612,172 L668,96 L704,48 L706,14 L664,8 L640,44 L640,70 Z" fill="#232c3a"/>
<path d="M596,168 L690,40" stroke="#b9c3c8" stroke-width="5"/>
<path d="M672,92 L716,84 L756,118 L758,196 L720,214 L676,196 Z" fill="#15181c"/>
<path d="M696,100 L748,104 L752,138 L700,136 Z" fill="#aab4b8"/>
<path d="M668,250 L700,196 L740,190 L800,246 Z" fill="#141619"/>
<!-- excavator mast -->
<path d="M372,66 L400,70 L420,150 L440,200 L400,210 L380,150 Z" fill="#b99a28"/>
<path d="M396,84 L430,92 L424,130 L400,128 Z" fill="#2a2c24"/>
<path d="M354,150 L470,136 L472,152 L360,166 Z" fill="#23251f"/>
<!-- truck -->
<path d="M632,250 L884,238 L886,262 L870,290 L640,300 Z" fill="#2a2616"/>
<path d="M730,246 L884,238 L886,258 L736,266 Z" fill="#d4a526"/>
<path d="M632,256 L722,250 L716,326 L640,330 Z" fill="#2a2618"/>
<path d="M642,262 l12,0 l-10,60 l-12,0 Z M668,260 l12,0 l-10,60 l-12,0 Z M694,258 l12,0 l-10,60 l-12,0 Z" fill="#dcb02c"/>
<path d="M730,270 L800,266 L806,340 L740,346 Z" fill="#c9981f"/>
<path d="M806,272 L880,268 L884,340 L812,344 Z" fill="#3a3320"/>
<path d="M820,290 L870,288 L872,330 L824,332 Z" fill="#c59a24"/>
<path d="M690,340 L886,330 L886,400 L700,400 Z" fill="#1b1d1f"/>
<path d="M770,352 L850,348 L852,388 L776,390 Z" fill="#a57c1f"/>
<!-- excavator body -->
<path d="M228,206 L330,186 L372,196 L380,230 L556,236 L560,330 L400,372 L380,440 L250,420 L236,330 Z" fill="#cfb236"/>
<path d="M232,210 L330,190 L350,246 L352,330 L240,330 Z" fill="#dcc54e"/>
<path d="M244,392 L380,404 L378,440 L250,424 Z" fill="#d5d4c2"/>
<path d="M240,340 L378,348 L378,372 L242,364 Z" fill="#c9c6a8"/>
<path d="M360,240 L556,240 L556,262 L362,262 Z" fill="#b7992a"/>
<path d="M370,290 L480,284 L484,330 L372,336 Z" fill="#8d8a6a"/>
<!-- cab -->
<path d="M540,176 L630,168 L640,240 L632,300 L556,306 Z" fill="#d2b22c"/>
<path d="M558,196 L606,192 L608,250 L562,254 Z" fill="#3a4048"/>
<!-- undercarriage -->
<path d="M380,350 L560,330 L640,340 L650,440 L600,480 L400,470 Z" fill="#15181a"/><path d="M420,380 L600,366 L606,392 L424,408 Z" fill="#39434a"/><path d="M400,430 L620,420 L600,452 L410,458 Z" fill="#2b3338"/>
<circle cx="632" cy="372" r="32" fill="#1c1e20"/><circle cx="632" cy="372" r="17" fill="#cfd2cc"/>
</g>
</svg>
<rect x="471.7" y="460" width="154.4" height="118.4" fill="none" stroke="#6f6f6c" stroke-width="1"/>

<svg x="645.2" y="460" width="154.2" height="118.4" viewBox="7 8 888 683" preserveAspectRatio="none" overflow="hidden">
<defs>
<linearGradient id="p4floor" x1="0" y1="0" x2="0" y2="1"><stop offset="0" stop-color="#7a8286"/><stop offset="0.5" stop-color="#626b72"/><stop offset="1" stop-color="#3f464b"/></linearGradient>
<linearGradient id="p4green" x1="0" y1="0" x2="1" y2="0"><stop offset="0" stop-color="#3f9a7e"/><stop offset="0.5" stop-color="#79c4ab"/><stop offset="1" stop-color="#5cb197"/></linearGradient>
</defs>
<rect x="0" y="0" width="902" height="700" fill="#5a5e5c"/>
<g filter="url(#b3)">
<!-- bright window area -->
<rect x="180" y="0" width="340" height="260" fill="#e9ece6"/>
<rect x="480" y="60" width="160" height="200" fill="#a3a399"/>
<!-- brick wall -->
<path d="M0,0 L128,0 L128,300 L60,353 L0,380 Z" fill="#774636"/>
<path d="M0,0 L60,0 L60,340 L0,380 Z" fill="#5f382c"/>
<path d="M72,170 L128,166 L128,262 L76,266 Z" fill="#e6e6dc"/>
<rect x="126" y="0" width="50" height="210" fill="#c7c8be"/>
<rect x="176" y="0" width="24" height="120" fill="#7c6a58"/>
<!-- floor -->
<path d="M0,380 L120,320 L560,300 L902,360 L902,700 L0,700 Z" fill="url(#p4floor)"/>
<path d="M0,360 L100,320 L60,420 L0,440 Z" fill="#4a4e50"/>
<!-- top right dark -->
<path d="M640,0 L902,0 L902,70 L720,70 L700,40 L640,60 Z" fill="#2c322e"/>
<!-- dark machinery center-right -->
<path d="M540,120 L720,90 L724,300 L600,330 L440,320 L450,250 Z" fill="#3b3d3a"/>
<path d="M440,250 L560,230 L600,330 L440,340 Z" fill="#54514a"/>
<path d="M540,276 L602,272 L604,344 L542,346 Z" fill="#deded6"/>
<path d="M600,260 L720,250 L724,352 L610,352 Z" fill="#8c8a80"/>
<!-- vertical machine -->
<path d="M282,128 L336,118 L344,300 L280,310 Z" fill="#46564c"/>
<path d="M262,300 L350,296 L352,350 L262,354 Z" fill="#4b7a66"/>
<path d="M236,180 L270,176 L276,320 L240,330 Z" fill="#59625c"/>
<!-- orange diagonal beam -->
<path d="M520,52 L548,70 L372,236 L346,226 Z" fill="#b07342"/>
<path d="M340,226 L470,220 L470,262 L350,268 Z" fill="#6a5a4a"/>
<!-- green panel -->
<path d="M722,76 L902,60 L902,344 L716,300 Z" fill="url(#p4green)"/>
<path d="M722,76 L744,74 L738,306 L716,300 Z" fill="#2f5a4c"/>
<path d="M716,250 L902,290 L902,344 L716,300 Z" fill="#3f8f76"/>
<path d="M826,70 L842,68 L842,330 L826,326 Z" fill="#3f8f76"/>
<!-- conveyor belt -->
<path d="M200,76 L256,68 L268,96 L186,360 L150,640 L60,640 L40,440 L96,353 Z" fill="#2a2c2d"/>
<path d="M196,76 L214,74 L110,353 L60,440 L40,440 L96,353 Z" fill="#3a3d3e"/>
</g>
<g filter="url(#b2)">
<!-- handrails -->
<g stroke="#aaa9a0" stroke-width="11" fill="none" stroke-linecap="round">
<path d="M706,44 L600,140 L452,262"/>
<path d="M720,100 L620,120"/>
<path d="M624,130 L618,330"/>
<path d="M520,210 L516,340"/>
<path d="M456,262 L452,340"/>
</g>
<path d="M676,40 L720,30 L690,120 L660,230 L640,330 L622,330 L640,200 Z" fill="#8f8d84"/>
<!-- support frames -->
<g stroke="#c3c6c1" stroke-width="12" fill="none">
<path d="M216,340 L216,600"/><path d="M256,340 L256,470"/><path d="M350,340 L350,440"/><path d="M386,400 L386,640"/>
<path d="M200,440 L360,436"/>
<path d="M350,390 L560,650"/>
</g>
<path d="M330,340 L620,348 L620,380 L340,372 Z" fill="#26282a"/>
<path d="M330,340 L620,348 L620,356 L330,348 Z" fill="#a84438"/>
<!-- left frame -->
<path d="M8,510 L132,506 L134,640 L10,650 Z" fill="#9fa3a0"/>
<path d="M20,530 L110,526 L112,640 L22,646 Z" fill="#1f2224"/>
<path d="M8,590 L100,586 L100,616 L8,620 Z" fill="#c9542c"/>
<!-- bottom frame -->
<path d="M50,642 L560,640 L560,666 L40,668 Z" fill="#9a9e9b"/>
<path d="M0,672 L902,672 L902,700 L0,700 Z" fill="#aeb0a8"/>
<!-- red-brown box -->
<path d="M420,440 L486,420 L500,520 L432,548 Z" fill="#8a4838"/>
<path d="M432,452 L470,442 L478,516 L440,530 Z" fill="#c9b0a0"/>
<!-- motor -->
<path d="M536,400 L640,380 L650,580 L600,610 L540,590 Z" fill="#181a1c"/>
<path d="M480,372 L640,380 L636,420 L484,412 Z" fill="#1f2122"/>
<!-- belt + housing -->
<path d="M700,360 L902,352 L902,520 L780,510 L730,470 Z" fill="#242526"/>
<path d="M760,500 L902,500 L902,690 L760,690 Z" fill="#2e3236"/>
<path d="M560,600 L760,590 L764,690 L570,690 Z" fill="#26292c"/>
<!-- green wheel -->
<ellipse cx="682" cy="482" rx="62" ry="128" fill="#27a078"/>
<ellipse cx="700" cy="484" rx="44" ry="104" fill="#22906f"/>
<ellipse cx="666" cy="470" rx="36" ry="100" fill="none" stroke="#54c9a0" stroke-width="8"/>
<!-- cable -->
<path d="M450,540 C430,600 380,640 340,690" stroke="#141516" stroke-width="12" fill="none"/>
</g>
</svg>
<rect x="645.2" y="460" width="154.2" height="118.4" fill="none" stroke="#3a3a38" stroke-width="1"/>

<rect x="147.1" y="591.3" width="110.9" height="16.9" rx="8.45" fill="#fbf3ad" stroke="#3a3a32" stroke-width="1.3"/>
<text x="202.55" y="604.3" font-size="11" font-weight="bold" text-anchor="middle" fill="#151515">汽车工业自动化产线</text>
<rect x="347.5" y="591.3" width="57.3" height="16.9" rx="8.45" fill="#fbf3ad" stroke="#3a3a32" stroke-width="1.3"/>
<text x="376.1" y="604.3" font-size="11" font-weight="bold" text-anchor="middle" fill="#151515">码头吊车</text>
<rect x="506.6" y="591.3" width="82.0" height="16.9" rx="8.45" fill="#fbf3ad" stroke="#3a3a32" stroke-width="1.3"/>
<text x="547.6" y="604.3" font-size="11" font-weight="bold" text-anchor="middle" fill="#151515">矿产机械配套</text>
<rect x="673" y="591.3" width="97.3" height="16.9" rx="8.45" fill="#fbf3ad" stroke="#3a3a32" stroke-width="1.3"/>
<text x="721.5" y="604.3" font-size="11" font-weight="bold" text-anchor="middle" fill="#151515">制砖厂自动控制</text>
</svg>
</body></html>
